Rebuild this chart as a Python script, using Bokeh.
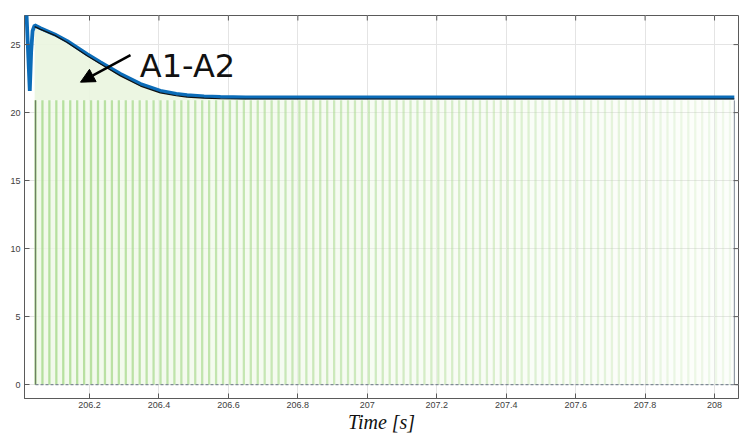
import numpy as np
from bokeh.plotting import figure
from bokeh.models import (Range1d, Arrow, NormalHead, Label, FixedTicker, ColumnDataSource)
from bokeh.embed import file_html
from bokeh.resources import INLINE

# ---- data ----
blue_t = [206.018, 206.024, 206.028, 206.032, 206.036, 206.042, 206.059, 206.100,
          206.136, 206.193, 206.232, 206.289, 206.347, 206.404, 206.450, 206.481,
          206.530, 206.577, 206.650, 206.800, 207.000, 207.500, 208.057]
blue_v = [27.6, 24.0, 21.6, 24.5, 26.0, 26.42, 26.2, 25.75,
          25.25, 24.3, 23.7, 22.85, 22.1, 21.6, 21.38, 21.28,
          21.2, 21.15, 21.12, 21.12, 21.12, 21.12, 21.12]
black_t = [206.042, 206.059, 206.100, 206.136, 206.193, 206.232, 206.289, 206.347,
           206.404, 206.450, 206.481, 206.530, 206.577, 206.650, 207.000, 208.057]
black_v = [26.32, 26.12, 25.68, 25.15, 24.18, 23.58, 22.7, 21.95,
           21.45, 21.24, 21.14, 21.07, 21.02, 21.0, 21.0, 21.0]
pulse_start = 206.0445
pulse_period = 0.02
pulse_count = 101
pulse_level = 20.9
x_ticks = [206.2, 206.4, 206.6, 206.8, 207.0, 207.2, 207.4, 207.6, 207.8, 208.0]
x_tick_labels = ["206.2", "206.4", "206.6", "206.8", "207", "207.2", "207.4", "207.6", "207.8", "208"]
y_ticks = [0, 5, 10, 15, 20, 25]
annot_text = "A1-A2"
x_title = "Time [s]"

XMIN, XMAX = 206.0128, 208.069
YMIN, YMAX = -1.02, 27.14

p = figure(width=739, height=435, output_backend="svg", toolbar_location=None,
           x_range=Range1d(XMIN, XMAX), y_range=Range1d(YMIN, YMAX),
           min_border_left=24, min_border_right=1, min_border_top=15, min_border_bottom=30,
           background_fill_color="white", border_fill_color="white")
p.outline_line_color = "#5a5a5a"
p.outline_line_width = 1

for ax in (p.xaxis[0], p.yaxis[0]):
    ax.major_tick_in = 5
    ax.major_tick_out = 0
    ax.minor_tick_in = 0
    ax.minor_tick_out = 0
    ax.axis_line_color = "#5a5a5a"
    ax.major_tick_line_color = "#5a5a5a"
    ax.major_label_text_font = "Liberation Sans"
    ax.major_label_text_font_size = "9px"
    ax.major_label_text_color = "#404040"
p.xaxis.ticker = FixedTicker(ticks=x_ticks)
p.xaxis.major_label_overrides = {t: l for t, l in zip(x_ticks, x_tick_labels)}
p.yaxis.ticker = FixedTicker(ticks=y_ticks)
p.xaxis.major_label_standoff = 3
p.yaxis.major_label_standoff = 4
p.xaxis.axis_label = x_title
p.xaxis.axis_label_text_font = "Liberation Serif"
p.xaxis.axis_label_text_font_style = "italic"
p.xaxis.axis_label_text_font_size = "20px"
p.xaxis.axis_label_text_color = "#111111"
p.xaxis.axis_label_standoff = 0

p.xgrid.ticker = FixedTicker(ticks=x_ticks)
p.ygrid.ticker = FixedTicker(ticks=y_ticks)
p.grid.grid_line_color = "#e4e4e4"
p.grid.grid_line_width = 1

# pulse train
pulse_t = pulse_start + pulse_period * np.arange(pulse_count)
frac = (pulse_t - pulse_t[0]) / (pulse_t[-1] - pulse_t[0])
bg_alpha = 0.8 - 0.65 * frac
st_alpha = 0.85 - 0.7 * frac
src = ColumnDataSource(dict(x=pulse_t, xc=pulse_t + pulse_period / 2, top=[pulse_level] * pulse_count,
                            ba=bg_alpha, sa=st_alpha))

# area under the curve (A1-A2) above the pulse level
bt = np.array(black_t)
bv = np.array(black_v)
mask = bt <= 206.9
p.varea(x=bt[mask], y1=pulse_level, y2=bv[mask], fill_color="#eaf5df", fill_alpha=0.9)

p.vbar(x="xc", width=pulse_period, bottom=0, top="top", source=src,
       fill_color="#eef8e6", fill_alpha="ba", line_color=None)
p.vbar(x="x", width=0.0065, bottom=0, top="top", source=src,
       fill_color="#a9da8e", fill_alpha="sa", line_color=None)

# edges
p.segment(x0=[pulse_t[0]], y0=[0], x1=[pulse_t[0]], y1=[pulse_level], line_color="#6d7f62", line_width=1.2)
p.segment(x0=[blue_t[-1]], y0=[0], x1=[blue_t[-1]], y1=[pulse_level], line_color="#7c8794", line_width=1)
p.segment(x0=[pulse_t[0]], y0=[0], x1=[XMAX], y1=[0], line_color="#7f8a96", line_width=1.2, line_dash="3 2")

# signals
p.line(blue_t, blue_v, line_color="#0b6cb8", line_width=3.8)
p.line(black_t, black_v, line_color="#111111", line_width=1.2)

# box ticks on top and right edges
p.ray(x=x_ticks, y=[YMAX] * len(x_ticks), length=5, angle=-np.pi / 2, length_units="screen",
      line_color="#5a5a5a", line_width=1)
p.ray(x=[XMAX] * len(y_ticks), y=y_ticks, length=5, angle=np.pi, length_units="screen",
      line_color="#5a5a5a", line_width=1)

# annotation
p.add_layout(Arrow(end=NormalHead(size=14, fill_color="black", line_color="black"),
                   x_start=206.318, y_start=24.22, x_end=206.174, y_end=22.24,
                   line_color="black", line_width=2.5))
p.add_layout(Label(x=206.345, y=23.45, text=annot_text, text_font="DejaVu Sans",
                   text_font_size="32px", text_color="#111111", text_baseline="alphabetic"))

open("out.html", "w").write(file_html(p, INLINE))
